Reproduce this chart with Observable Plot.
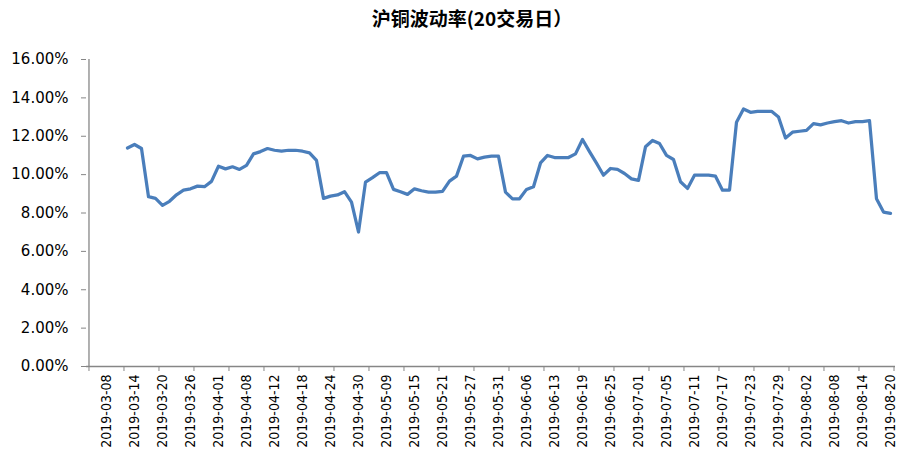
<!DOCTYPE html>
<html>
<head>
<meta charset="utf-8">
<script src="https://cdn.jsdelivr.net/npm/d3@7"></script>
<script src="https://cdn.jsdelivr.net/npm/@observablehq/plot@0.6"></script>
<style>
  html, body { margin: 0; padding: 0; background: #fff; }
  #title {
    width: 900px; height: 38px; line-height: 36px;
    text-align: center; box-sizing: border-box; padding-left: 44px;
    font-family: "Noto Sans CJK SC", sans-serif; font-weight: bold; font-size: 19px; color: #000;
  }
  #chart svg { display: block; }
</style>
</head>
<body>
<div id="title">沪铜波动率(20交易日）</div>
<div id="chart"></div>
<script>
// Trading days (category axis)
const dates = [
  "2019-03-06","2019-03-07","2019-03-08","2019-03-11","2019-03-12","2019-03-13","2019-03-14","2019-03-15","2019-03-18","2019-03-19",
  "2019-03-20","2019-03-21","2019-03-22","2019-03-25","2019-03-26","2019-03-27","2019-03-28","2019-03-29",
  "2019-04-01","2019-04-02","2019-04-03","2019-04-04","2019-04-08","2019-04-09","2019-04-10","2019-04-11","2019-04-12",
  "2019-04-15","2019-04-16","2019-04-17","2019-04-18","2019-04-19","2019-04-22","2019-04-23","2019-04-24","2019-04-25",
  "2019-04-26","2019-04-29","2019-04-30",
  "2019-05-06","2019-05-07","2019-05-08","2019-05-09","2019-05-10","2019-05-13","2019-05-14","2019-05-15","2019-05-16",
  "2019-05-17","2019-05-20","2019-05-21","2019-05-22","2019-05-23","2019-05-24","2019-05-27","2019-05-28","2019-05-29",
  "2019-05-30","2019-05-31",
  "2019-06-03","2019-06-04","2019-06-05","2019-06-06","2019-06-10","2019-06-11","2019-06-12","2019-06-13","2019-06-14",
  "2019-06-17","2019-06-18","2019-06-19","2019-06-20","2019-06-21","2019-06-24","2019-06-25","2019-06-26","2019-06-27",
  "2019-06-28",
  "2019-07-01","2019-07-02","2019-07-03","2019-07-04","2019-07-05","2019-07-08","2019-07-09","2019-07-10","2019-07-11",
  "2019-07-12","2019-07-15","2019-07-16","2019-07-17","2019-07-18","2019-07-19","2019-07-22","2019-07-23","2019-07-24",
  "2019-07-25","2019-07-26","2019-07-29","2019-07-30","2019-07-31",
  "2019-08-01","2019-08-02","2019-08-05","2019-08-06","2019-08-07","2019-08-08","2019-08-09","2019-08-12","2019-08-13",
  "2019-08-14","2019-08-15","2019-08-16","2019-08-19","2019-08-20"
];

// 20-day volatility, percent (null = no value)
const vol = [
  null, null, null, null, null,
  11.39, 11.57, 11.36, 8.85, 8.76, 8.40, 8.61, 8.95, 9.19, 9.26,
  9.40, 9.37, 9.65, 10.44, 10.30, 10.41, 10.27, 10.48, 11.08, 11.20,
  11.36, 11.27, 11.22, 11.27, 11.27, 11.22, 11.13, 10.74, 8.76, 8.88,
  8.94, 9.11, 8.57, 7.01, 9.61, 9.84, 10.10, 10.10, 9.23, 9.11,
  8.97, 9.26, 9.16, 9.09, 9.09, 9.13, 9.66, 9.92, 10.96, 11.00,
  10.82, 10.91, 10.96, 10.96, 9.09, 8.74, 8.74, 9.23, 9.37, 10.61,
  11.00, 10.89, 10.89, 10.89, 11.08, 11.83, 11.20, 10.60, 9.97, 10.32,
  10.27, 10.06, 9.78, 9.70, 11.45, 11.78, 11.62, 11.00, 10.79, 9.63,
  9.28, 9.97, 9.97, 9.97, 9.92, 9.19, 9.19, 12.73, 13.42, 13.25,
  13.30, 13.30, 13.30, 13.00, 11.91, 12.21, 12.26, 12.31, 12.66, 12.59,
  12.69, 12.76, 12.81, 12.69, 12.76, 12.76, 12.81, 8.74, 8.05, 7.98
];

// Tick labels shown on the x axis (every 4th trading day)
const xLabels = [
  "2019-03-08","2019-03-14","2019-03-20","2019-03-26","2019-04-01","2019-04-08","2019-04-12","2019-04-18",
  "2019-04-24","2019-04-30","2019-05-09","2019-05-15","2019-05-21","2019-05-27","2019-05-31","2019-06-06",
  "2019-06-13","2019-06-19","2019-06-25","2019-07-01","2019-07-05","2019-07-11","2019-07-17","2019-07-23",
  "2019-07-29","2019-08-02","2019-08-08","2019-08-14","2019-08-20"
];
const yTicks = [0, 2, 4, 6, 8, 10, 12, 14, 16];

const data = dates.map((d, i) => ({date: d, v: vol[i]}));

const W = 900, H = 414;
const mL = 86, mR = 5, mT = 21, mB = 86;
const step = (W - mL - mR) / dates.length;
const boundaryDates = dates.filter((d, i) => i % 5 === 0);
const axisColor = "#868686";

const chart = Plot.plot({
  width: W, height: H,
  marginLeft: mL, marginRight: mR, marginTop: mT, marginBottom: mB,
  style: {fontFamily: "DejaVu Sans, sans-serif", fontSize: "12px", color: "#000", background: "#fff"},
  x: {type: "point", domain: dates, padding: 0.5, axis: null, label: null},
  y: {domain: [0, 16], axis: null, label: null},
  marks: [
    Plot.axisY({ticks: yTicks, tickFormat: d => d.toFixed(2) + "%", tickSize: 5, tickPadding: 13,
      fontSize: 15, stroke: axisColor, fill: "#000", label: null}),
    Plot.ruleX([dates[0]], {dx: -step / 2, y1: 0, y2: 16, stroke: axisColor, strokeWidth: 1.3}),
    Plot.ruleY([0], {stroke: axisColor, strokeWidth: 1.3}),
    Plot.axisX({ticks: boundaryDates, tickSize: 5, tickFormat: () => "", dx: -step / 2, stroke: axisColor, label: null}),
    Plot.axisX({ticks: [dates[dates.length - 1]], tickSize: 5, tickFormat: () => "", dx: step / 2, stroke: axisColor, label: null}),
    Plot.axisX({ticks: xLabels, tickSize: 0, tickRotate: -90, tickPadding: 8, label: null,
      fontSize: 14, fontFamily: "DejaVu Sans Condensed, DejaVu Sans, sans-serif", fill: "#000"}),
    Plot.line(data, {x: "date", y: "v", stroke: "#4a7ebb", strokeWidth: 3.25, strokeLinejoin: "round"})
  ]
});
document.getElementById("chart").appendChild(chart);
</script>
</body>
</html>
